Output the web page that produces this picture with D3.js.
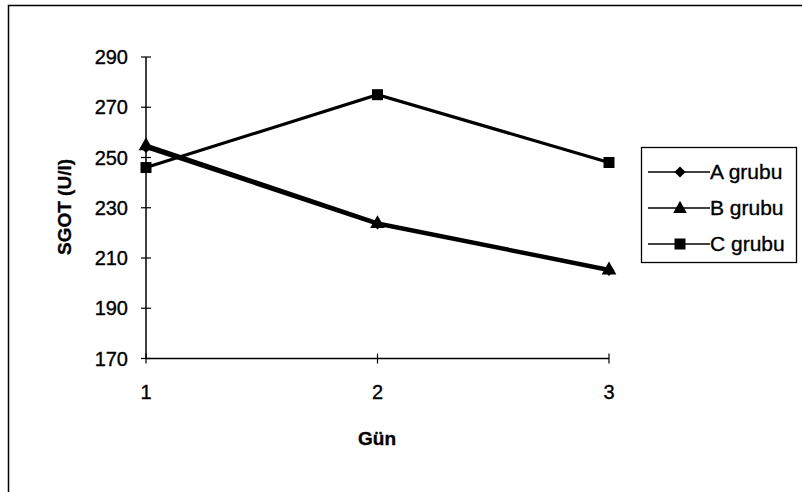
<!DOCTYPE html>
<html>
<head>
<meta charset="utf-8">
<script src="https://cdn.jsdelivr.net/npm/d3@7"></script>
<style>
  body { margin: 0; background: #fff; }
  svg { display: block; font-family: "Liberation Sans", Arial, sans-serif; }
  text { fill: #000; stroke: #000; stroke-width: 0.35px; }
</style>
</head>
<body>
<div id="chart"></div>
<script>
// Data
var days = [1, 2, 3];
var yTicks = [170, 190, 210, 230, 250, 270, 290];
var seriesNames = ['A grubu', 'B grubu', 'C grubu'];
var grubuA = [254, 223.5, 205];
var grubuB = [255, 224, 205.5];
var grubuC = [246, 275, 248];
var markerTypes = ['diamond', 'triangle', 'square'];

var width = 802, height = 492;

var svg = d3.select('#chart').append('svg')
    .attr('width', width)
    .attr('height', height);

// outer frame (only top and left edges visible in the scan)
svg.append('path')
    .attr('d', 'M8.5,492 L8.5,5.5 L802,5.5')
    .attr('fill', 'none')
    .attr('stroke', '#000')
    .attr('stroke-width', 1.5);

var x = d3.scaleLinear().domain([1, 3]).range([146, 609]);
var y = d3.scaleLinear().domain([170, 290]).range([358.5, 57]);

// y axis with crossing ticks
var yAxis = svg.append('g').attr('class', 'y-axis');
yAxis.append('line')
    .attr('x1', x(1)).attr('x2', x(1))
    .attr('y1', y(290)).attr('y2', y(170))
    .attr('stroke', '#000').attr('stroke-width', 1.5);
yAxis.selectAll('.tick').data(yTicks).enter().append('line')
    .attr('x1', x(1) - 5).attr('x2', x(1) + 5)
    .attr('y1', function (d) { return y(d); })
    .attr('y2', function (d) { return y(d); })
    .attr('stroke', '#000').attr('stroke-width', 1.2);
yAxis.selectAll('text').data(yTicks).enter().append('text')
    .attr('x', 128)
    .attr('y', function (d) { return y(d); })
    .attr('dy', '0.35em')
    .attr('text-anchor', 'end')
    .attr('font-size', 20)
    .text(function (d) { return d; });

// x axis with crossing ticks
var xAxis = svg.append('g').attr('class', 'x-axis');
xAxis.append('line')
    .attr('x1', x(1)).attr('x2', x(3))
    .attr('y1', y(170)).attr('y2', y(170))
    .attr('stroke', '#000').attr('stroke-width', 1.5);
xAxis.selectAll('.tick').data(days).enter().append('line')
    .attr('x1', function (d) { return x(d); })
    .attr('x2', function (d) { return x(d); })
    .attr('y1', y(170) - 5).attr('y2', y(170) + 5)
    .attr('stroke', '#000').attr('stroke-width', 1.2);
xAxis.selectAll('text').data(days).enter().append('text')
    .attr('x', function (d) { return x(d); })
    .attr('y', 399)
    .attr('text-anchor', 'middle')
    .attr('font-size', 20)
    .text(function (d) { return d; });

// axis titles
svg.append('text')
    .attr('x', 377).attr('y', 445)
    .attr('text-anchor', 'middle')
    .attr('font-size', 19)
    .attr('font-weight', 'bold')
    .text('Gün');
svg.append('text')
    .attr('transform', 'translate(71,207) rotate(-90)')
    .attr('text-anchor', 'middle')
    .attr('font-size', 19)
    .attr('font-weight', 'bold')
    .text('SGOT (U/l)');

// series
var allSeries = [grubuA, grubuB, grubuC];
var line = d3.line()
    .x(function (d, i) { return x(days[i]); })
    .y(function (d) { return y(d); });

function markerPath(type, s) {
    if (type === 'diamond') {
        return 'M0,' + (-s) + 'L' + s + ',0L0,' + s + 'L' + (-s) + ',0Z';
    } else if (type === 'triangle') {
        return 'M0,' + (-s * 1.1) + 'L' + (s * 1.05) + ',' + (s * 0.75) + 'L' + (-s * 1.05) + ',' + (s * 0.75) + 'Z';
    }
    return 'M' + (-s) + ',' + (-s) + 'H' + s + 'V' + s + 'H' + (-s) + 'Z';
}

var plot = svg.append('g').attr('class', 'plot');
allSeries.forEach(function (vals, k) {
    plot.append('path')
        .attr('d', line(vals))
        .attr('fill', 'none')
        .attr('stroke', '#000')
        .attr('stroke-width', 3.2);
});
allSeries.forEach(function (vals, k) {
    plot.selectAll('.m' + k).data(vals).enter().append('path')
        .attr('transform', function (d, i) { return 'translate(' + x(days[i]) + ',' + y(d) + ')'; })
        .attr('d', markerPath(markerTypes[k], k === 1 ? 7 : 5.5))
        .attr('fill', '#000');
});

// legend
var legend = svg.append('g').attr('class', 'legend');
legend.append('rect')
    .attr('x', 641.5).attr('y', 147.5)
    .attr('width', 155).attr('height', 115)
    .attr('fill', 'none')
    .attr('stroke', '#000').attr('stroke-width', 1.3);
var rows = legend.selectAll('.row').data(seriesNames).enter().append('g')
    .attr('transform', function (d, i) { return 'translate(0,' + (172 + i * 36) + ')'; });
rows.append('line')
    .attr('x1', 648).attr('x2', 710)
    .attr('stroke', '#000').attr('stroke-width', 1.5);
rows.append('path')
    .attr('transform', 'translate(680,0)')
    .attr('d', function (d, i) { return markerPath(markerTypes[i], i === 1 ? 6.5 : 5.5); })
    .attr('fill', '#000');
rows.append('text')
    .attr('x', 710)
    .attr('dy', '0.35em')
    .attr('font-size', 21)
    .text(function (d) { return d; });
</script>
</body>
</html>
